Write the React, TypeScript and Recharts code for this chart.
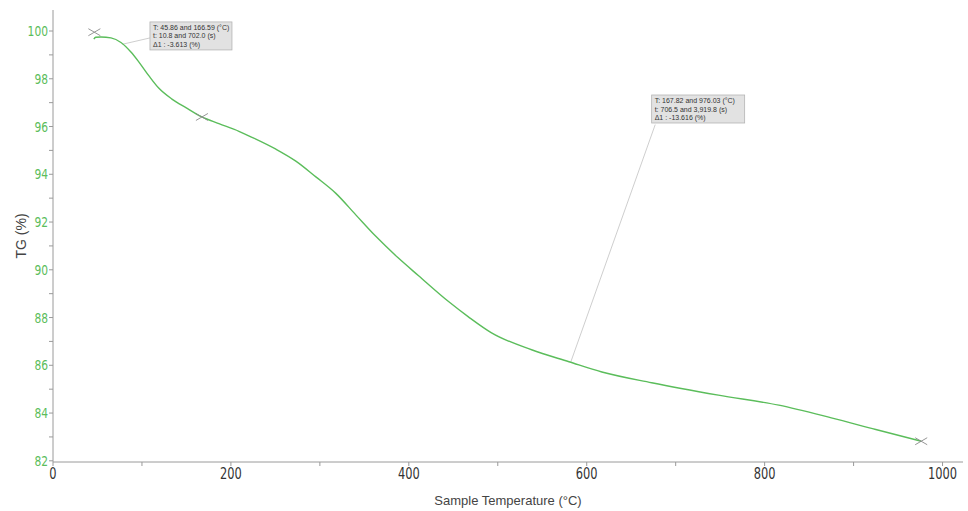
import React from 'react';
import {
  ComposedChart,
  Line,
  Scatter,
  XAxis,
  YAxis,
  ReferenceDot,
  ReferenceLine,
} from 'recharts';

// TG curve (temperature in °C, mass in %)
const TEMPS = [
  45.9, 48, 53.9, 65.2, 76.4, 87.6, 96.6, 107.9, 119.1, 133.7, 149.4, 167.4, 186.5, 209,
  223.6, 250.6, 273, 295.5, 318, 340.4, 362.9, 388, 411, 445, 467, 493, 538, 580, 617,
  673, 748, 816, 875, 925, 976,
];
const TG = [
  99.66, 99.74, 99.75, 99.71, 99.52, 99.12, 98.7, 98.12, 97.6, 97.15, 96.79, 96.4, 96.12,
  95.8, 95.55, 95.05, 94.55, 93.89, 93.2, 92.3, 91.4, 90.5, 89.75, 88.66, 88.03, 87.36,
  86.65, 86.15, 85.72, 85.27, 84.75, 84.33, 83.8, 83.31, 82.82,
];

// cursor marks (x crosses)
const MARK_T = [46.5, 167.4, 976];
const MARK_TG = [99.95, 96.4, 82.82];

// annotation boxes: anchor (top-left) in data units, leader line ends, text
const NOTE_T = [109, 673];
const NOTE_TG = [100.38, 97.32];
const LEADER_FROM = [
  { t: 109, v: 99.71 },
  { t: 677, v: 96.08 },
];
const LEADER_TO = [
  { t: 77.5, v: 99.44 },
  { t: 582, v: 86.13 },
];
const NOTE_LINES = [
  ['T: 45.86 and 166.59 (°C)', 't: 10.8 and 702.0 (s)', 'Δ1 :  -3.613 (%)'],
  ['T: 167.82 and 976.03 (°C)', 't: 706.5 and 3,919.8 (s)', 'Δ1 :  -13.616 (%)'],
];
const NOTE_W = [82, 93];

const X_TICKS = [0, 100, 200, 300, 400, 500, 600, 700, 800, 900, 1000];
const Y_TICKS = [82, 83, 84, 85, 86, 87, 88, 89, 90, 91, 92, 93, 94, 95, 96, 97, 98, 99, 100];

const curve = TEMPS.map((t, i) => ({ t, tg: TG[i] }));
const marks = MARK_T.map((t, i) => ({ t, tg: MARK_TG[i] }));

const GREEN = '#5bbd5b';
const AXIS = '#9a9a9a';
const NARROW = '"DejaVu Sans Condensed", "Liberation Sans Narrow", sans-serif';

const YTick = (props: any) => {
  const { x, y, payload } = props;
  if (payload.value % 2 !== 0) return null;
  return (
    <text x={x} y={y} dy="0.35em" textAnchor="end" fill={GREEN} fontSize={14.5} fontFamily={NARROW} transform={`translate(${x},0) scale(0.82,1) translate(${-x},0)`}>
      {payload.value}
    </text>
  );
};

const XTick = (props: any) => {
  const { x, y, payload } = props;
  if (payload.value % 200 !== 0) return null;
  return (
    <text x={x} y={y} dy="0.71em" textAnchor="middle" fill="#333" fontSize={15.5} fontFamily={NARROW} transform={`translate(${x},0) scale(0.82,1) translate(${-x},0)`}>
      {payload.value}
    </text>
  );
};

const Cross = (props: any) => {
  const { cx, cy } = props;
  if (cx == null || cy == null) return null;
  return (
    <g stroke="#8a8a8a" strokeWidth={0.9}>
      <line x1={cx - 6} y1={cy - 3.5} x2={cx + 6} y2={cy + 3.5} />
      <line x1={cx - 6} y1={cy + 3.5} x2={cx + 6} y2={cy - 3.5} />
    </g>
  );
};

const noteShape = (i: number) => (props: any) => {
  const { cx, cy } = props;
  return (
    <g>
      <rect x={cx} y={cy} width={NOTE_W[i]} height={28} fill="#e2e2e2" stroke="#b4b4b4" strokeWidth={0.8} />
      {NOTE_LINES[i].map((s, k) => (
        <text key={k} x={cx + 3} y={cy + 8 + k * 8.5} fontSize={7} fill="#333" fontFamily="Liberation Sans, Arial, sans-serif">
          {s}
        </text>
      ))}
    </g>
  );
};

export default function App() {
  return (
    <div style={{ position: 'absolute', left: 0, top: 0, background: '#fff' }}>
      <ComposedChart width={968} height={511} data={curve} margin={{ top: 10, right: 5, bottom: 0, left: 0 }}>
        <XAxis
          dataKey="t"
          type="number"
          domain={[0, 1023]}
          ticks={X_TICKS}
          interval={0}
          allowDataOverflow
          stroke={AXIS}
          tickSize={4}
          tickMargin={2}
          tick={<XTick />}
          height={49}
          label={(p: any) => {
            const vb = p.viewBox;
            return (
              <text x={vb.x + vb.width / 2} y={505} textAnchor="middle" fill="#444" fontSize={13} fontFamily="Liberation Sans, Arial, sans-serif">
                Sample Temperature (°C)
              </text>
            );
          }}
        />
        <YAxis
          type="number"
          domain={[81.95, 100.88]}
          ticks={Y_TICKS}
          interval={0}
          allowDataOverflow
          stroke={AXIS}
          tickSize={4}
          tickMargin={1}
          tick={<YTick />}
          width={53}
          label={(p: any) => {
            const vb = p.viewBox;
            const cy = vb.y + vb.height / 2;
            return (
              <text x={21} y={cy} transform={`rotate(-90, 21, ${cy})`} textAnchor="middle" dominantBaseline="central" fill="#444" fontSize={14} fontFamily="Liberation Sans, Arial, sans-serif">
                TG (%)
              </text>
            );
          }}
        />
        {LEADER_FROM.map((a, i) => (
          <ReferenceLine
            key={'l' + i}
            segment={[
              { x: a.t, y: a.v },
              { x: LEADER_TO[i].t, y: LEADER_TO[i].v },
            ]}
            stroke="#c8c8c8"
            strokeWidth={0.9}
          />
        ))}
        <Line
          type="monotone"
          dataKey="tg"
          stroke={GREEN}
          strokeWidth={1.4}
          dot={false}
          isAnimationActive={false}
        />
        <Scatter data={marks} dataKey="tg" shape={<Cross />} isAnimationActive={false} />
        {NOTE_T.map((t, i) => (
          <ReferenceDot key={'n' + i} x={t} y={NOTE_TG[i]} r={0} shape={noteShape(i)} ifOverflow="visible" />
        ))}
      </ComposedChart>
    </div>
  );
}
